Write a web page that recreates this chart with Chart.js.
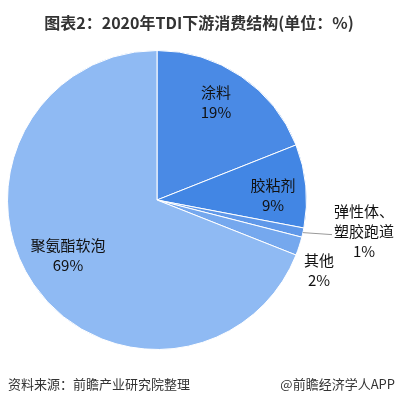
<!DOCTYPE html>
<html>
<head>
<meta charset="utf-8">
<script src="https://cdn.jsdelivr.net/npm/chart.js@4/dist/chart.umd.min.js"></script>
<style>
  body { margin: 0; background: #fff; font-family: "Noto Sans CJK SC", sans-serif; }
  #wrap { position: relative; width: 398px; height: 398px; }
  #title { position: absolute; left: 0; top: 10px; width: 398px; text-align: center;
           font-size: 16px; font-weight: bold; color: #333; }
  .foot { position: absolute; top: 375px; font-size: 13px; color: #333; line-height: 18px; }
  canvas { position: absolute; left: 0; top: 0; }
</style>
</head>
<body>
<div id="wrap">
  <canvas id="pie" width="398" height="398"></canvas>
  <div id="title">图表2：2020年TDI下游消费结构(单位：%)</div>
  <div class="foot" style="left:8px">资料来源：前瞻产业研究院整理</div>
  <div class="foot" style="right:3px">@前瞻经济学人APP</div>
</div>
<script>
// 2020年TDI下游消费结构
const categories = ["涂料", "胶粘剂", "弹性体、塑胶跑道", "其他", "聚氨酯软泡"];
const shares = [19, 9, 1, 2, 69];
const sliceColors = ["#4a8ae5", "#4286e4", "#5f98e9", "#75a8ee", "#8fbaf3"];

// label text position per slice (name lines + value)
const labelSpots = [
  { x: 216, y: 92, lines: ["涂料"] },
  { x: 273, y: 185, lines: ["胶粘剂"] },
  { x: 364, y: 211, lines: ["弹性体、", "塑胶跑道"], line: true },
  { x: 319, y: 260, lines: ["其他"] },
  { x: 68, y: 245, lines: ["聚氨酯软泡"] }
];

const labelPlugin = {
  id: "sliceLabels",
  afterDatasetsDraw(chart) {
    const ctx = chart.ctx;
    const meta = chart.getDatasetMeta(0);
    ctx.save();
    ctx.fillStyle = "#111";
    ctx.textAlign = "center";
    ctx.textBaseline = "middle";
    ctx.font = "15px 'Noto Sans CJK SC', sans-serif";
    meta.data.forEach((arc, i) => {
      const spot = labelSpots[i];
      let y = spot.y;
      spot.lines.forEach(t => { ctx.fillText(t, spot.x, y); y += 20; });
      ctx.fillText(shares[i] + "%", spot.x, y);
      if (spot.line) {
        const mid = (arc.startAngle + arc.endAngle) / 2;
        const sx = arc.x + Math.cos(mid) * arc.outerRadius;
        const sy = arc.y + Math.sin(mid) * arc.outerRadius;
        ctx.strokeStyle = "#999";
        ctx.lineWidth = 1;
        ctx.beginPath();
        ctx.moveTo(sx, sy);
        ctx.lineTo(332, sy + 2);
        ctx.stroke();
      }
    });
    ctx.restore();
  }
};

new Chart(document.getElementById("pie").getContext("2d"), {
  type: "pie",
  data: {
    labels: categories,
    datasets: [{
      data: shares,
      backgroundColor: sliceColors,
      borderColor: "#ffffff",
      borderWidth: 1
    }]
  },
  options: {
    responsive: false,
    animation: false,
    layout: { padding: { left: 7, top: 50, right: 91, bottom: 48 } },
    plugins: { legend: { display: false }, tooltip: { enabled: false } }
  },
  plugins: [labelPlugin]
});
</script>
</body>
</html>
